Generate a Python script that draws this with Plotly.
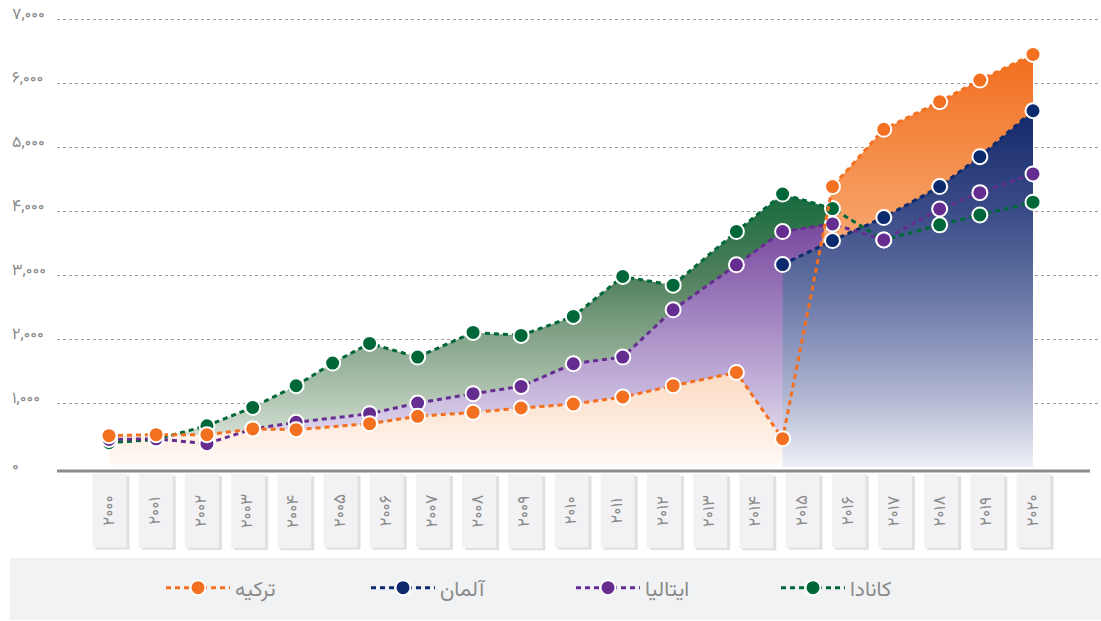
import plotly.graph_objects as go

# ---------------- data ----------------
# x positions of the data points, in year units (points sit slightly irregularly)
x_pos = [2000.00, 2001.02, 2002.12, 2003.11, 2004.05, 2004.84, 2005.64, 2006.68,
         2007.88, 2008.92, 2010.05, 2011.12, 2012.21, 2013.58, 2014.58, 2015.66,
         2016.77, 2017.98, 2018.85, 2020.00]

canada = [380, 430, 645, 932, 1270, 1625, 1932, 1718, 2103, 2057, 2353, 2978,
          2843, 3680, 4267, 4040, 3550, 3785, 3940, 4139]
italy = [430, 440, 365, 595, 698, None, 833, 1000, 1146, 1260, 1614, 1719,
         2457, 3160, 3680, 3800, 3550, 4034, 4289, 4581]
germany = [None, None, None, None, None, None, None, None, None, None, None, None,
           None, None, 3165, 3540, 3899, 4383, 4851, 5569]
turkey = [490, 506, 506, 595, 584, None, 678, 792, 854, 922, 985, 1094,
          1271, 1479, 443, 4383, 5279, 5710, 6049, 6450]

names = {"canada": "کانادا", "italy": "ایتالیا", "germany": "آلمان", "turkey": "ترکیه"}

year_ticks = list(range(2000, 2021))
year_labels = ["۲۰۰۰", "۲۰۰۱", "۲۰۰۲", "۲۰۰۳", "۲۰۰۴", "۲۰۰۵", "۲۰۰۶", "۲۰۰۷",
               "۲۰۰۸", "۲۰۰۹", "۲۰۱۰", "۲۰۱۱", "۲۰۱۲", "۲۰۱۳", "۲۰۱۴", "۲۰۱۵",
               "۲۰۱۶", "۲۰۱۷", "۲۰۱۸", "۲۰۱۹", "۲۰۲۰"]
y_ticks = [0, 1000, 2000, 3000, 4000, 5000, 6000, 7000]
y_labels = ["۰", "۱,۰۰۰", "۲,۰۰۰", "۳,۰۰۰", "۴,۰۰۰", "۵,۰۰۰", "۶,۰۰۰", "۷,۰۰۰"]

# ---------------- styles ----------------
FONT = "Vazirmatn, 'DejaVu Sans', sans-serif"
TXT = "#8a8a8a"
col = {"canada": "#006838", "italy": "#662d91", "germany": "#0c2a6e", "turkey": "#f37021"}
scales = {
    "canada": [[0, "#f4f7f4"], [0.14, "#cddacd"], [0.23, "#b7cab8"], [0.47, "#86a58b"],
               [0.7, "#4f805c"], [1, "#176a3e"]],
    "italy": [[0, "#f4f0f8"], [0.22, "#cdbfe0"], [0.33, "#bca8d4"], [0.55, "#9d7dbd"],
              [0.8, "#7c4ea0"], [1, "#6e3d96"]],
    "turkey": [[0, "#fffbf8"], [0.08, "#fdeee3"], [0.22, "#fcdcc5"], [0.6, "#f7a066"],
               [0.78, "#f48a45"], [1, "#f26e1f"]],
    "germany": [[0, "#eef0f6"], [0.18, "#b5bbd4"], [0.36, "#8790b9"], [0.54, "#5a6a9c"],
                [0.72, "#3a4c87"], [1, "#15286a"]],
}
series = {"canada": canada, "italy": italy, "germany": germany, "turkey": turkey}

fig = go.Figure()

# area fills (drawn first, in this stacking order)
for key in ["canada", "italy", "turkey", "germany"]:
    vals = series[key]
    top = max(v for v in vals if v is not None)
    fig.add_trace(go.Scatter(
        x=x_pos, y=vals, mode="none", fill="tozeroy", connectgaps=True,
        fillgradient=dict(type="vertical", start=0, stop=top, colorscale=scales[key]),
        showlegend=False, hoverinfo="skip"))

# dashed lines + markers on top
rank = {"turkey": 1, "germany": 2, "italy": 3, "canada": 4}
for key in ["germany", "canada", "italy", "turkey"]:
    fig.add_trace(go.Scatter(
        x=x_pos, y=series[key], mode="lines+markers", connectgaps=True,
        name=names[key], legendrank=rank[key],
        line=dict(color=col[key], width=3, dash="5px,4px"),
        marker=dict(color=col[key], size=15, line=dict(color="white", width=2))))

W, H = 1101, 621
Y_MAX = 7050
L, R, T, B = 57, 0, 16, 154
pw, ph = W - L - R, H - T - B

def px_x(p):
    return (p - L) / pw

def px_y(p):
    return (H - B - p) / ph

shapes = [
    # legend panel
    dict(type="rect", xref="paper", yref="paper", x0=px_x(10), x1=px_x(1101),
         y0=px_y(620), y1=px_y(558), fillcolor="#f1f2f4", line=dict(width=0), layer="below"),
    # axis base line
    dict(type="line", xref="paper", yref="paper", x0=0, x1=px_x(1090),
         y0=px_y(471), y1=px_y(471), line=dict(color="#8c8c8c", width=3)),
]

annotations = []
# y tick labels (left aligned)
for v, lab in zip(y_ticks, y_labels):
    annotations.append(dict(xref="paper", yref="y", x=px_x(10), y=v, xanchor="left",
                            yanchor="middle", text=lab, showarrow=False,
                            yshift=4 if v > 0 else 0,
                            font=dict(family=FONT, size=16, color=TXT)))
# year cards
for yr, lab in zip(year_ticks, year_labels):
    annotations.append(dict(xref="x", yref="paper", x=yr, y=px_y(511), text=" ",
                            xanchor="center", yanchor="middle",
                            showarrow=False, textangle=-90, width=73, height=33,
                            xshift=3, yshift=-2, bgcolor="#e0e0e3", borderpad=0))
    annotations.append(dict(xref="x", yref="paper", x=yr, y=px_y(511), text=lab,
                            xanchor="center", yanchor="middle",
                            showarrow=False, textangle=-90, width=73, height=33,
                            bgcolor="#f2f2f4", borderpad=0,
                            font=dict(family=FONT, size=17, color=TXT)))

fig.update_layout(
    width=W, height=H, margin=dict(l=L, r=R, t=T, b=B, pad=0),
    paper_bgcolor="white", plot_bgcolor="white",
    font=dict(family=FONT, color=TXT),
    xaxis=dict(range=[1998.874, 2021.472], showgrid=False, showticklabels=False,
               zeroline=False, showline=False, ticks=""),
    yaxis=dict(range=[0, Y_MAX], tickvals=y_ticks[1:], showticklabels=False,
               showgrid=True, gridcolor="#a0a0a0", griddash="dot", gridwidth=1,
               zeroline=False, showline=False, ticks=""),
    showlegend=True,
    legend=dict(orientation="h", x=px_x(161), xanchor="left", y=px_y(588), yanchor="middle",
                bgcolor="rgba(0,0,0,0)", font=dict(family=FONT, size=21, color=TXT),
                entrywidth=126, itemwidth=64, traceorder="normal"),
    shapes=shapes, annotations=annotations,
)

fig.write_html("out.html", config={"displayModeBar": False},
               post_script="document.body.style.margin='0';document.body.style.overflow='hidden';")
